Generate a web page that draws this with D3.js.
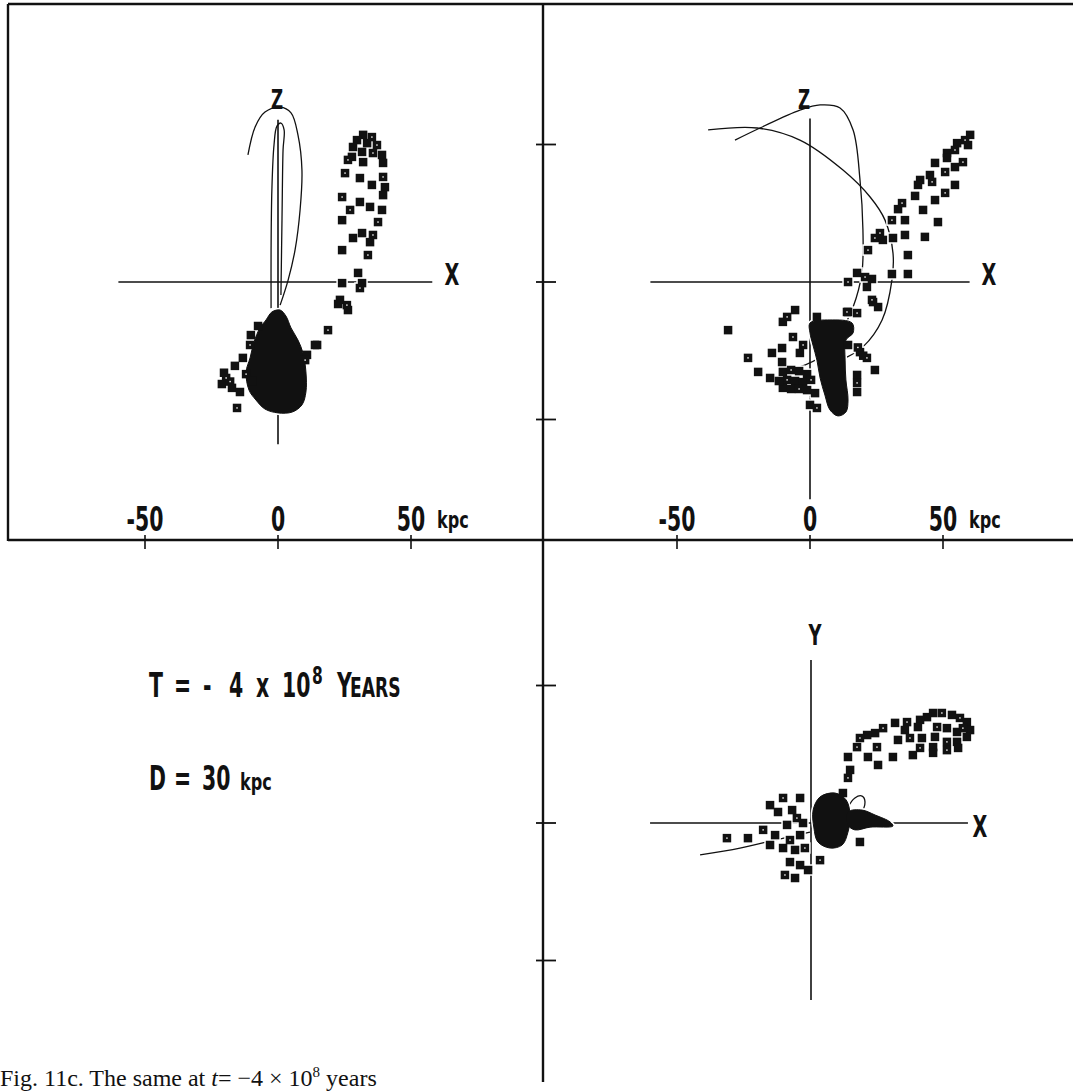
<!DOCTYPE html>
<html>
<head>
<meta charset="utf-8">
<script src="https://cdn.jsdelivr.net/npm/d3@7"></script>
<style>
  html, body { margin: 0; padding: 0; background: #fff; }
  svg { display: block; }
</style>
</head>
<body>
<svg id="fig" width="1073" height="1091"></svg>
<script>
// ---- tick marks and labels (kpc) ----
const tickValues = [-50, 0, 50];
const tickLabels = ["-50", "0", "50"];

// ---- X-Z projection, left panel (kpc) ----
const tlAxisX = [-60, 58];
const tlAxisZ = [-59, 59];
const tlStream = [
  [32.0,53.5],[35.3,52.7],[29.7,51.6],[33.5,50.5],[37.2,49.8],[28.2,49.1],[31.6,47.3],
  [35.7,46.9],[39.1,46.2],[27.8,45.5],[26.3,44.4],[32.0,43.6],[39.5,43.3],[25.2,39.6],
  [30.8,37.8],[35.3,35.3],[39.5,38.2],[40.2,34.5],[39.5,31.6],[24.1,30.9],[30.8,29.1],
  [34.6,27.3],[27.1,26.2],[39.1,26.2],[24.1,22.5],[37.6,21.8],[28.2,16.0],[31.6,17.8],
  [35.7,17.1],[34.6,14.5],[24.1,11.6],[33.8,9.8],[30.1,3.3],[31.6,-0.4],[30.8,-2.2],
  [24.1,-0.4],[23.3,-6.5],[25.9,-8.4],[22.6,-8.0],[26.3,-10.2],[18.8,-17.5],[14.7,-22.9],
  [10.9,-26.5]
];
const tlScatter = [
  [-10.5,-22.9],[-13.2,-27.6],[-16.2,-30.5],[-19.5,-34.9],[-17.3,-38.5],[-14.3,-40.0],
  [-15.4,-45.8],[-21.1,-37.1],[13.9,-22.9],[10.2,-28.4],[-7.5,-16.0],[-10.2,-19.3],
  [-12.0,-33.5],[-9.8,-36.0],[-20.3,-33.0],[-18.0,-36.2]
];
const tlCore = [
  [-2.3,-10.9],[0.8,-10.2],[3.0,-12.4],[4.9,-16.7],[7.5,-21.1],[9.4,-25.8],[10.5,-32.7],
  [10.5,-40.0],[9.0,-44.7],[5.3,-47.3],[0,-47.6],[-4.9,-46.2],[-8.3,-42.9],[-10.9,-39.3],
  [-12.0,-32.7],[-10.5,-27.6],[-9.0,-21.8],[-6.8,-16.7],[-4.5,-13.8]
];
const tlOrbitA = [
  [-11.3,46.2],[-8.6,56.4],[-4.9,61.8],[0.8,63.6],[4.9,61.5],[7.5,53.5],[9.0,40.7],
  [8.3,26.2],[6.4,11.6],[3.8,0.7],[0.8,-8.4]
];
const tlOrbitB = [
  [-2.6,-9.5],[-2.6,11.6],[-2.3,33.5],[-1.5,49.8],[-0.4,56.7],[1.1,57.8],[2.3,55.3],
  [1.9,48.0],[1.5,22.5],[1.1,-4.7]
];

// ---- X-Z projection, right panel (kpc) ----
const trAxisX = [-60, 60];
const trAxisZ = [-79, 59.5];
const trStream = [
  [60.2,53.5],[58.3,51.6],[55.3,50.5],[59.4,49.8],[54.5,48.0],[51.5,46.9],[51.5,45.1],
  [57.5,43.6],[54.5,41.8],[47.0,43.3],[50.8,40.0],[45.1,38.9],[41.4,37.1],[45.9,36.4],
  [40.6,35.3],[54.5,35.3],[50.8,32.4],[39.5,31.3],[47.0,29.8],[34.6,28.7],[33.1,26.5],
  [42.5,26.2],[30.8,22.5],[35.7,22.5],[48.1,21.8],[26.3,17.8],[35.7,17.1],[43.2,16.4],
  [24.4,16.0],[27.4,15.3],[31.2,16.0],[21.8,11.6],[36.8,9.8],[17.7,3.3],[20.7,1.8],
  [30.8,2.9],[36.8,2.9],[14.3,0],[23.3,1.1],[21.4,-1.8],[23.3,-6.5],[25.6,-9.1],
  [14.3,-10.9],[17.7,-11.3],[23.7,-7.3]
];
const trScatter = [
  [-30.8,-17.5],[-8.6,-12.7],[-5.6,-10.2],[-10.2,-14.5],[-6.4,-20.0],[2.6,-12.7],
  [-10.5,-24.0],[-2.6,-22.9],[-3.8,-25.8],[-14.3,-25.8],[-23.3,-27.6],[-10.5,-29.1],
  [-19.5,-32.7],[13.9,-10.9],[14.3,-22.9],[18.8,-25.5],[21.4,-27.6],[24.4,-32.0],
  [17.7,-33.8],[17.7,-36.7],[17.7,-40.0],[0,-44.7],[2.6,-45.8],[1.9,-40.4],
  [-15.0,-34.9],[18.0,-23.8],[20.0,-26.8],
  [-10.2,-32.7],[-7.1,-32.0],[-4.1,-32.4],[-1.1,-33.5],[-8.6,-35.6],[-5.6,-36.0],
  [-2.6,-36.4],[0.4,-35.6],[-10.2,-38.5],[-7.1,-38.9],[-4.1,-38.9],[-1.1,-39.3],[-11.7,-36.0]
];
const trCore = [
  [0,-14.9],[7.5,-13.8],[15.8,-14.9],[16.2,-18.5],[13.5,-21.1],[13.2,-28.4],[13.5,-35.6],
  [14.3,-42.9],[13.5,-47.3],[10.5,-48.7],[7.5,-46.5],[5.6,-41.1],[3.8,-34.9],[2.6,-28.4],
  [1.1,-22.9],[0,-18.5]
];
const trOrbit1 = [
  [-38.3,55.3],[-19.9,56.0],[-3.8,51.6],[12.4,40.7],[22.6,30.9],[28.2,22.5],[31.2,10.5],
  [30.8,0.7],[27.1,-13.8],[19.9,-23.6],[13.9,-27.3]
];
const trOrbit2 = [
  [-28.2,51.6],[-18.8,56.0],[-3.8,62.5],[3.8,64.4],[11.3,63.3],[16.2,55.3],[18.8,37.1],
  [19.9,18.9],[19.5,3.3],[16.2,-9.1],[11.3,-18.5],[3.8,-27.3],[-3.8,-30.9],[-8.6,-32.0]
];

// ---- X-Y projection (kpc) ----
const brAxisX = [-60.5, 59];
const brAxisY = [-64.4, 59.3];
const brStream = [
  [45.9,40.0],[49.2,40.0],[43.6,38.5],[53.0,39.3],[56.0,38.2],[58.6,36.7],[41.0,37.5],
  [36.1,36.7],[31.6,36.4],[59.8,33.8],[57.1,34.5],[54.9,33.1],[51.1,34.5],[47.4,34.9],
  [40.2,34.9],[35.3,33.8],[27.1,34.5],[24.1,32.7],[21.1,32.0],[18.4,30.9],[58.6,31.3],
  [54.9,29.5],[51.1,29.5],[46.6,31.3],[41.7,30.9],[37.2,30.9],[32.7,30.2],[55.3,27.3],
  [51.1,26.5],[45.9,27.6],[45.9,25.5],[41.0,27.3],[38.3,24.7],[30.8,24.0],[24.8,27.6],
  [21.4,24.0],[25.2,21.1],[17.3,27.6],[13.9,24.0],[14.7,19.3],[13.9,16.4],[12.0,10.9]
];
const brScatter = [
  [-15.4,6.5],[-10.5,9.1],[-4.1,9.1],[-7.1,4.7],[-5.3,1.8],[-9.0,-0.7],[-3.0,0],
  [-18.0,-2.5],[18.4,-6.9],[-23.7,-5.5],[-31.6,-5.5],[-10.5,-9.1],[-6.0,-9.8],[-2.3,-9.1],
  [-7.9,-14.2],[-4.1,-15.3],[-9.8,-18.9],[-6.0,-20.0],[-1.1,-17.1],[3.4,-13.5],
  [-12.4,4.0],[-13.5,-4.4],[-7.9,-6.2],[-15.4,-8.0],[-4.1,-4.4]
];
const brCore = [
  [3.4,9.5],[9.0,10.9],[13.2,8.4],[14.7,2.9],[13.9,-3.3],[11.7,-8.0],[7.1,-9.1],
  [2.6,-6.9],[1.1,-1.8],[0.8,4.7]
];
const brWing = [
  [13.9,4.0],[19.2,4.7],[24.1,2.9],[29.7,0.4],[30.8,-1.1],[22.2,-1.5],[16.5,-2.5],[13.9,-0.7]
];
const brLoop = [
  [12.8,0.4],[13.9,5.5],[16.5,9.1],[19.2,9.8],[20.3,7.6],[18.4,2.9],[15.4,0.4]
];
const brTrail = [[-41.7,-11.6],[-26.7,-9.1],[-13.5,-6.2],[-0.4,-3.3]];

// ---------------------------------------------------------------------------
const svg = d3.select("#fig");
const INK = "#111";
const plotFont = '"DejaVu Sans","Liberation Sans",sans-serif';
const NARROW = 0.62;                  // horizontal squeeze of the plotter lettering
const HALF_X = 133, HALF_Y = 137.5;   // screen length of 50 kpc

function label(parent, x, y, txt, size, anchor, squeeze) {
  return parent.append("text")
    .attr("transform", `translate(${x},${y}) scale(${squeeze || NARROW},1)`)
    .attr("text-anchor", anchor || "start")
    .attr("font-family", plotFont).attr("font-weight", "bold")
    .attr("font-size", size).attr("fill", INK).text(txt);
}

function panel(ox, oy) {
  return {
    x: d3.scaleLinear().domain([-50, 50]).range([ox - HALF_X, ox + HALF_X]),
    y: d3.scaleLinear().domain([-50, 50]).range([oy + HALF_Y, oy - HALF_Y])
  };
}
const tl = panel(278, 282), tr = panel(810, 282), br = panel(811, 823);

// ---- frame ----
const frame = svg.append("g").attr("stroke", INK).attr("stroke-width", 2.4).attr("fill", "none");
frame.append("line").attr("x1", 8).attr("y1", 4).attr("x2", 1073).attr("y2", 4);
frame.append("line").attr("x1", 8).attr("y1", 4).attr("x2", 8).attr("y2", 541);
frame.append("line").attr("x1", 8).attr("y1", 540).attr("x2", 1073).attr("y2", 540);
frame.append("line").attr("x1", 543).attr("y1", 4).attr("x2", 543).attr("y2", 1082);

// ticks along the horizontal divider
[tl, tr].forEach(p => {
  frame.selectAll(null).data(tickValues).enter().append("line")
    .attr("stroke-width", 1.6)
    .attr("x1", d => p.x(d)).attr("x2", d => p.x(d))
    .attr("y1", 535).attr("y2", 549);
});
// ticks along the vertical divider
[tr, br].forEach(p => {
  frame.selectAll(null).data(tickValues).enter().append("line")
    .attr("stroke-width", 1.8)
    .attr("x1", 536).attr("x2", 556)
    .attr("y1", d => p.y(d)).attr("y2", d => p.y(d));
});

// tick labels for the two upper panels
[tl, tr].forEach(p => {
  tickValues.forEach((v, i) => label(svg, p.x(v), 531, tickLabels[i], 33, "middle"));
  label(svg, p.x(50) + 26, 528, "kpc", 23, "start", 0.7);
});

// ---- panel contents ----
const curve = d3.curveCatmullRom.alpha(0.5);
const SQ = 8.5;

function drawPanel(p, cfg) {
  const g = svg.append("g");
  const line = d3.line().x(d => p.x(d[0])).y(d => p.y(d[1])).curve(curve);
  const blob = d3.line().x(d => p.x(d[0])).y(d => p.y(d[1])).curve(d3.curveCatmullRomClosed.alpha(0.5));

  // coordinate axes
  g.append("line")
    .attr("x1", p.x(cfg.axisH[0])).attr("x2", p.x(cfg.axisH[1]))
    .attr("y1", p.y(0)).attr("y2", p.y(0))
    .attr("stroke", INK).attr("stroke-width", 1.6);
  g.append("line")
    .attr("x1", p.x(0)).attr("x2", p.x(0))
    .attr("y1", p.y(cfg.axisV[0])).attr("y2", p.y(cfg.axisV[1]))
    .attr("stroke", INK).attr("stroke-width", 1.6);

  // orbit tracks
  cfg.orbits.forEach(o => {
    g.append("path").attr("d", o.closed ? blob(o.pts) : line(o.pts))
      .attr("fill", "none").attr("stroke", INK).attr("stroke-width", 1.3);
  });

  const pts = cfg.points;
  // white clearing under the particles
  g.selectAll(null).data(pts).enter().append("rect")
    .attr("x", d => p.x(d[0]) - SQ / 2 - 1.5).attr("y", d => p.y(d[1]) - SQ / 2 - 1.5)
    .attr("width", SQ + 3).attr("height", SQ + 3).attr("fill", "#fff");
  cfg.cores.forEach(c => {
    g.append("path").attr("d", blob(c)).attr("fill", "#fff").attr("stroke", "#fff").attr("stroke-width", 4);
  });
  // particles
  cfg.cores.forEach(c => {
    g.append("path").attr("d", blob(c)).attr("fill", INK).attr("stroke", INK).attr("stroke-width", 1);
  });
  g.selectAll(null).data(pts).enter().append("rect")
    .attr("x", d => p.x(d[0]) - SQ / 2).attr("y", d => p.y(d[1]) - SQ / 2)
    .attr("width", SQ).attr("height", SQ).attr("fill", INK);
  g.selectAll(null).data(pts.filter((d, i) => i % 3 === 1)).enter().append("rect")
    .attr("x", d => p.x(d[0]) - 0.7).attr("y", d => p.y(d[1]) - 0.7)
    .attr("width", 1.4).attr("height", 1.4).attr("fill", "#fff");

  // axis names
  cfg.labels.forEach(l => label(g, l.x, l.y, l.t, l.size, "middle"));
}

drawPanel(tl, {
  axisH: tlAxisX, axisV: tlAxisZ,
  orbits: [{ pts: tlOrbitA }, { pts: tlOrbitB }],
  points: tlStream.concat(tlScatter),
  cores: [tlCore],
  labels: [{ t: "Z", x: 277, y: 109, size: 27 }, { t: "X", x: 452, y: 285, size: 31 }]
});

drawPanel(tr, {
  axisH: trAxisX, axisV: trAxisZ,
  orbits: [{ pts: trOrbit1 }, { pts: trOrbit2 }],
  points: trStream.concat(trScatter),
  cores: [trCore],
  labels: [{ t: "Z", x: 804, y: 109, size: 27 }, { t: "X", x: 989, y: 285, size: 31 }]
});

drawPanel(br, {
  axisH: brAxisX, axisV: brAxisY,
  orbits: [{ pts: brTrail }, { pts: brLoop, closed: true }],
  points: brStream.concat(brScatter),
  cores: [brCore, brWing],
  labels: [{ t: "Y", x: 815, y: 645, size: 29 }, { t: "X", x: 980, y: 837, size: 31 }]
});

// ---- run parameters ----
function tokens(list, baseline) {
  list.forEach(tk => label(svg, tk.x, baseline + (tk.dy || 0), tk.t, tk.size || 33, "start", tk.sq));
}
tokens([
  { t: "T", x: 149 }, { t: "=", x: 174 }, { t: "-", x: 203 }, { t: "4", x: 229 },
  { t: "x", x: 256 }, { t: "10", x: 282 }, { t: "8", x: 312, dy: -13, size: 25 },
  { t: "Y", x: 337 }, { t: "EARS", x: 350, size: 26, sq: 0.66 }
], 697);
tokens([
  { t: "D", x: 149 }, { t: "=", x: 174 }, { t: "30", x: 202 }, { t: "kpc", x: 240, size: 23, sq: 0.7 }
], 790);

// ---- caption ----
const cap = svg.append("text").attr("x", 0).attr("y", 1086)
  .attr("font-family", '"Liberation Serif","DejaVu Serif",serif').attr("font-size", 24).attr("fill", INK);
cap.append("tspan").text("Fig. 11c. The same at ");
cap.append("tspan").attr("font-style", "italic").text("t");
cap.append("tspan").text("= \u22124 \u00d7 10");
cap.append("tspan").attr("font-size", 15).attr("dy", -9).text("8");
cap.append("tspan").attr("dy", 9).text(" years");
</script>
</body>
</html>
